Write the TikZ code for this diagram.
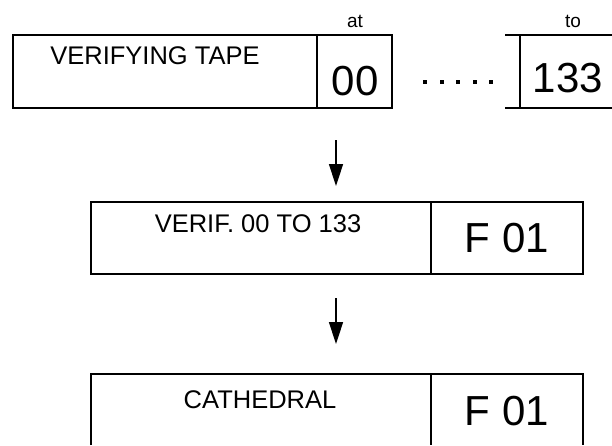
\documentclass[tikz,border=0pt]{standalone}
\usepackage{fontspec}
\setmainfont{Liberation Sans}
\usetikzlibrary{arrows.meta, positioning}
\tikzset{
  boxline/.style={line width=1.5pt},
  cellbox/.style={draw, boxline, inner sep=0pt, outer sep=0pt, anchor=north west},
  openbox/.style={inner sep=0pt, outer sep=0pt, anchor=north west},
  flowarrow/.style={-{Triangle[length=22pt,width=14pt]}, line width=1.5pt},
  labeltext/.style={inner sep=0pt, font=\fontsize{25.5}{30}\selectfont},
  codetext/.style={inner sep=0pt, font=\fontsize{42}{48}\selectfont},
  smalltext/.style={inner sep=0pt, font=\fontsize{19}{23}\selectfont}
}
\begin{document}
\begin{tikzpicture}[x=1pt, y=-1pt]
  \useasboundingbox (0,0) rectangle (612,445);
  % top row: tape with start and end positions
  \node[cellbox, minimum width=304pt, minimum height=73pt] (tape) at (13,35) {};
  \node[cellbox, minimum width=75pt, minimum height=73pt] (startcell) at (tape.north east) {};
  \node[openbox, minimum width=92pt, minimum height=73pt] (endcell) at (520,35) {};
  \draw[boxline] ([xshift=-15pt]endcell.north west) -- (endcell.north east);
  \draw[boxline] ([xshift=-15pt]endcell.south west) -- (endcell.south east);
  \draw[boxline] (endcell.north west) -- (endcell.south west);

  \node[labeltext] (tapetext) at (155,56) {VERIFYING TAPE};
  \node[smalltext] (attext) at (355,21) {at};
  \node[codetext] (starttext) at (355,81) {00};
  \node[smalltext] (totext) at (573,21) {to};
  \node[codetext] (endtext) at (568,78) {133};
  \foreach \i in {0,...,4}
    \fill (423+16.5*\i,80) rectangle ++(4,4);

  % verification step
  \node[cellbox, minimum width=340pt, minimum height=72pt] (verif) at (91,202) {};
  \node[cellbox, minimum width=152pt, minimum height=72pt] (verifcode) at (verif.north east) {};
  \node[labeltext] (veriftext) at (258,224) {VERIF. 00 TO 133};
  \node[codetext] (verifcodetext) at (507,238) {F 01};

  % result
  \node[openbox, minimum width=340pt, minimum height=71pt] (cath) at (91,374) {};
  \node[openbox, minimum width=152pt, minimum height=71pt] (cathcode) at (cath.north east) {};
  \draw[boxline] (cath.south west) |- (cathcode.north east) -- (cathcode.south east);
  \draw[boxline] (cathcode.north west) -- (cathcode.south west);
  \node[labeltext] (cathtext) at (260,400) {CATHEDRAL};
  \node[codetext] (cathcodetext) at (507,411) {F 01};

  % arrows
  \coordinate (arrowonefrom) at (336,140);
  \coordinate (arrowoneto) at (336,186);
  \coordinate (arrowtwofrom) at (336,298);
  \coordinate (arrowtwoto) at (336,344);
  \draw[flowarrow] (arrowonefrom) -- (arrowoneto);
  \draw[flowarrow] (arrowtwofrom) -- (arrowtwoto);
\end{tikzpicture}
\end{document}
